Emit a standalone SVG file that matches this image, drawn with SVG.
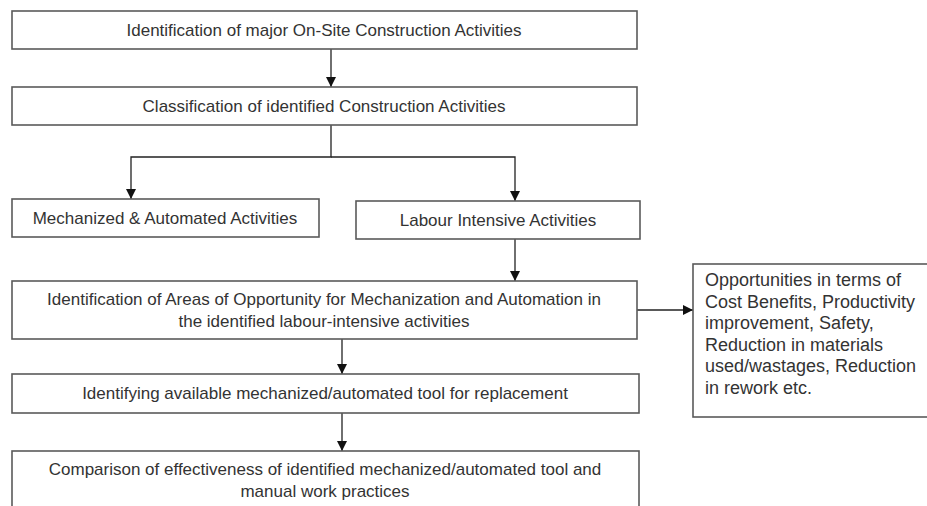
<svg xmlns="http://www.w3.org/2000/svg" width="927" height="506" viewBox="0 0 927 506">
<style>
.box{fill:#fff;stroke:#5a5a5a;stroke-width:1.6}
.t{font-family:"Liberation Sans",Arial,sans-serif;font-size:17px;fill:#333;text-anchor:middle}
.tl{font-family:"Liberation Sans",Arial,sans-serif;font-size:18px;fill:#333}
.c{fill:none;stroke:#222;stroke-width:1.3}
</style>
<defs>
<marker id="ah" viewBox="0 0 10 10" refX="10" refY="5" markerWidth="10" markerHeight="10" markerUnits="userSpaceOnUse" orient="auto">
<path d="M0,0 L10,5 L0,10 Z" fill="#111"/>
</marker>
</defs>
<rect width="927" height="506" fill="#fff"/>
<g id="connectors">
<line class="c" x1="331" y1="49" x2="331" y2="87" marker-end="url(#ah)"/>
<polyline class="c" points="331,125 331,157 131,157 131,199" marker-end="url(#ah)"/>
<polyline class="c" points="331,157 515,157 515,201" marker-end="url(#ah)"/>
<line class="c" x1="515" y1="239" x2="515" y2="281" marker-end="url(#ah)"/>
<line class="c" x1="637" y1="310" x2="693" y2="310" marker-end="url(#ah)"/>
<line class="c" x1="342" y1="339" x2="342" y2="374" marker-end="url(#ah)"/>
<line class="c" x1="342" y1="413" x2="342" y2="451" marker-end="url(#ah)"/>
</g>
<g id="n1">
<rect class="box" x="12" y="11" width="625" height="38"/>
<text class="t" x="324" y="36">Identification of major On-Site Construction Activities</text>
</g>
<g id="n2">
<rect class="box" x="12" y="87" width="625" height="38"/>
<text class="t" x="324" y="112">Classification of identified Construction Activities</text>
</g>
<g id="n3">
<rect class="box" x="12" y="199" width="307" height="38"/>
<text class="t" x="165" y="224">Mechanized &amp; Automated Activities</text>
</g>
<g id="n4">
<rect class="box" x="356" y="201" width="284" height="38"/>
<text class="t" x="498" y="226">Labour Intensive Activities</text>
</g>
<g id="n5">
<rect class="box" x="12" y="281" width="625" height="58"/>
<text class="t" x="324" y="305">Identification of Areas of Opportunity for Mechanization and Automation in</text>
<text class="t" x="324" y="327">the identified labour-intensive activities</text>
</g>
<g id="n6">
<rect class="box" x="693" y="264" width="250" height="153"/>
<text class="tl" x="705" y="286">Opportunities in terms of</text>
<text class="tl" x="705" y="307.5">Cost Benefits, Productivity</text>
<text class="tl" x="705" y="329">improvement, Safety,</text>
<text class="tl" x="705" y="350.5">Reduction in materials</text>
<text class="tl" x="705" y="372">used/wastages, Reduction</text>
<text class="tl" x="705" y="393.5">in rework etc.</text>
</g>
<g id="n7">
<rect class="box" x="12" y="374" width="627" height="39"/>
<text class="t" x="325" y="399">Identifying available mechanized/automated tool for replacement</text>
</g>
<g id="n8">
<rect class="box" x="12" y="451" width="627" height="70"/>
<text class="t" x="325" y="475">Comparison of effectiveness of identified mechanized/automated tool and</text>
<text class="t" x="325" y="497">manual work practices</text>
</g>
</svg>
